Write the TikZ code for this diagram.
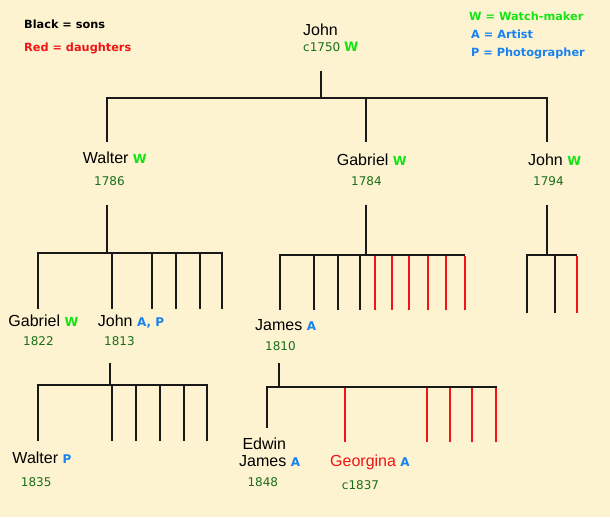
\documentclass[tikz,border=0pt]{standalone}
\usepackage{fontspec}
\setmainfont{Liberation Sans}
\newfontfamily\vfont{DejaVu Sans}
\definecolor{bg}{RGB}{253,243,208}
\definecolor{wgreen}{RGB}{20,228,20}
\definecolor{yrgreen}{RGB}{25,110,25}
\definecolor{ablue}{RGB}{25,130,240}
\definecolor{dred}{RGB}{240,20,20}
\definecolor{lc}{RGB}{25,25,25}
\newcommand\tagw[1][12.5]{{\vfont\bfseries\fontsize{#1}{#1}\selectfont\color{wgreen}W}}
\newcommand\taga[1]{{\vfont\bfseries\fontsize{12}{12}\selectfont\color{ablue}#1}}
\begin{document}
\begin{tikzpicture}[x=1pt,y=-1pt,
  nm/.style={font=\fontsize{16}{19}\selectfont, inner sep=0pt, anchor=base west, text=black},
  yr/.style={font=\vfont\fontsize{12}{14}\selectfont, text=yrgreen, inner sep=0pt, anchor=base west},
  leg/.style={font=\vfont\bfseries\fontsize{11.3}{13}\selectfont, inner sep=0pt, anchor=base west},
  ln/.style={line width=2pt, draw=lc, line join=miter},
  rl/.style={line width=2pt, draw=dred}]
\fill[bg] (0,0) rectangle (610,517);
\useasboundingbox (0,0) rectangle (610,517);

% legends
\node[leg,text=black] (legs) at (24,28) {Black = sons};
\node[leg,text=dred] (legd) at (24,51.5) {Red = daughters};
\node[leg,text=wgreen] (legw) at (469,20.5) {W = Watch-maker};
\node[leg,text=ablue] (lega) at (471,38.3) {A = Artist};
\node[leg,text=ablue] (legp) at (471,56.5) {P = Photographer};

% generation 1
\node[nm] (john) at (303,35) {John};
\node[yr] (johny) at (303,51.5) {c1750 \tagw[13]};

% generation 2
\node[nm] (walter) at (82.7,163.3) {Walter \tagw};
\node[yr] (waltery) at (94,185) {1786};
\node[nm] (gabriel) at (336.7,165) {Gabriel \tagw};
\node[yr] (gabriely) at (351,185) {1784};
\node[nm] (johnb) at (528,165) {John \tagw};
\node[yr] (johnby) at (533,185) {1794};

% generation 3
\node[nm] (gabrielb) at (8.3,326.5) {Gabriel \tagw};
\node[yr] (gabrielby) at (23,345) {1822};
\node[nm] (johnc) at (97.7,326.5) {John \taga{A, P}};
\node[yr] (johncy) at (104,345) {1813};
\node[nm] (james) at (255,330) {James \taga{A}};
\node[yr] (jamesy) at (265,350) {1810};

% generation 4
\node[nm] (walterb) at (12.3,463.3) {Walter \taga{P}};
\node[yr] (walterby) at (20.7,486) {1835};
\node[nm] (edwin) at (242.3,449.3) {Edwin};
\node[nm] (edwinb) at (239,466) {James \taga{A}};
\node[yr] (edwiny) at (247.3,486.7) {1848};
\node[nm,text=dred] (georgina) at (330,466) {Georgina \taga{A}};
\node[yr] (georginay) at (341.7,489) {c1837};

% ---- John c1750 family
\coordinate (j0t) at (321,71);
\coordinate (j0h) at (321,98);
\draw[ln] (j0t) -- (j0h);
\coordinate (wtop) at (107,142);
\coordinate (gtop) at (365.5,142);
\coordinate (jtop) at (546.5,142);
\draw[ln] (wtop) -- (wtop |- j0h) -- (jtop |- j0h) -- (jtop);
\draw[ln] (gtop |- j0h) -- (gtop);

% ---- Walter 1786 family
\coordinate (wa) at (107,205);
\coordinate (wb) at (107,253);
\draw[ln] (wa) -- (wb);
\draw[ln] (38,309) -- (38,253) -- (222,253) -- (222,309);
\foreach \x in {112,152,176,200} \draw[ln] (\x,253) -- (\x,309);

% ---- Gabriel 1784 family
\coordinate (ga) at (366,205);
\coordinate (gb) at (366,255);
\draw[ln] (ga) -- (gb);
\draw[ln] (280,310) -- (280,255) -- (465,255);
\foreach \x in {314,338,360} \draw[ln] (\x,255) -- (\x,310);
\foreach \x in {375,392,409,428,446,465} \draw[rl] (\x,256) -- (\x,310);

% ---- John 1794 family
\coordinate (ja) at (547,205);
\coordinate (jb) at (547,255);
\draw[ln] (ja) -- (jb);
\draw[ln] (527,313) -- (527,255) -- (577,255);
\draw[ln] (555,255) -- (555,313);
\draw[rl] (577,256) -- (577,313);

% ---- John 1813 family
\coordinate (ca) at (110,363);
\coordinate (cb) at (110,385);
\draw[ln] (ca) -- (cb);
\draw[ln] (38,441) -- (38,385) -- (207,385) -- (207,441);
\foreach \x in {112,136,160,184} \draw[ln] (\x,385) -- (\x,441);

% ---- James 1810 family
\coordinate (ma) at (279,363);
\coordinate (mb) at (279,387);
\draw[ln] (ma) -- (mb);
\draw[ln] (267,428) -- (267,387) -- (497,387);
\foreach \x in {345,427,450,472,496} \draw[rl] (\x,388) -- (\x,442);
\end{tikzpicture}
\end{document}
